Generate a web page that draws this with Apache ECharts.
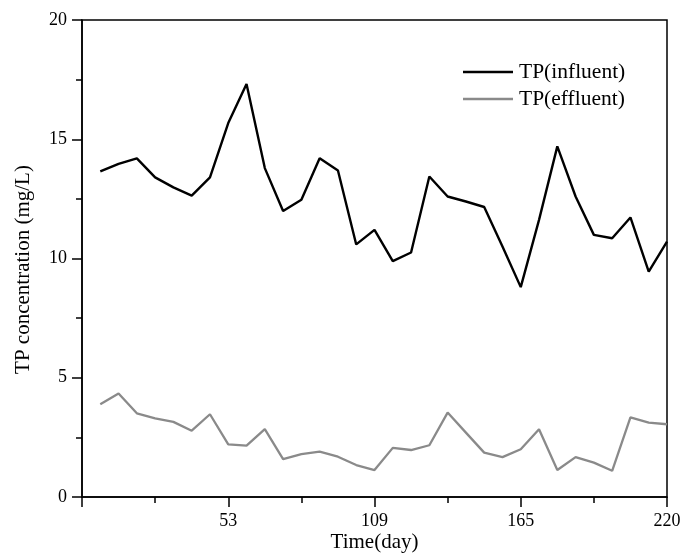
<!DOCTYPE html>
<html>
<head>
<meta charset="utf-8">
<script src="https://cdn.jsdelivr.net/npm/echarts@6/dist/echarts.min.js"></script>
<style>
html,body{margin:0;padding:0;background:#fff;}
#chart{width:682px;height:553px;}
</style>
</head>
<body>
<div id="chart"></div>
<script>
// Sampling days (weekly)
const days = [4, 11, 18, 25, 32, 39, 46, 53, 60, 67, 74, 81, 88, 95, 102, 109,
              116, 123, 130, 137, 144, 151, 158, 165, 172, 179, 186, 193, 200, 207, 214, 221];
// TP concentration (mg/L)
const influent = [13.65, 13.97, 14.20, 13.40, 12.98, 12.64, 13.40, 15.68, 17.32, 13.79, 11.99, 12.46,
                  14.20, 13.69, 10.59, 11.20, 9.89, 10.25, 13.44, 12.60, 12.39, 12.16, 10.50, 8.80,
                  11.62, 14.70, 12.60, 10.99, 10.85, 11.72, 9.45, 10.71];
const effluent = [3.89, 4.34, 3.51, 3.30, 3.15, 2.78, 3.47, 2.21, 2.15, 2.85, 1.59, 1.80,
                  1.90, 1.69, 1.34, 1.13, 2.06, 1.97, 2.17, 3.54, 2.70, 1.86, 1.67, 2.00,
                  2.84, 1.13, 1.67, 1.44, 1.10, 3.34, 3.12, 3.05];
// x-axis tick labels (axis starts 3 days before day 0, ticks every 28 days)
const xStart = -3;
const xTickLabels = {56: '53', 112: '109', 168: '165', 224: '220'};
const seriesNames = ['TP(influent)', 'TP(effluent)'];

const font = "'Liberation Serif','Times New Roman',serif";
const pair = (vals) => days.map((d, i) => [d - xStart, vals[i]]);

const chart = echarts.init(document.getElementById('chart'));
chart.setOption({
  animation: false,
  backgroundColor: '#fff',
  textStyle: {fontFamily: font, color: '#000'},
  grid: {left: 82, right: 15, top: 20, bottom: 56, outerBoundsMode: 'none', containLabel: false,
         show: true, borderColor: '#000', borderWidth: 1.5, backgroundColor: 'transparent'},
  legend: {
    orient: 'vertical', left: 463, top: 61, padding: 0, itemWidth: 50, itemHeight: 2.4, itemGap: 5,
    icon: 'rect',
    textStyle: {fontFamily: font, fontSize: 21.5, color: '#000', padding: [0, 0, 0, 1]},
    data: seriesNames
  },
  xAxis: {
    type: 'value', min: 0, max: 224, interval: 56,
    name: 'Time(day)', nameLocation: 'middle', nameGap: 35, nameMoveOverlap: false,
    nameTextStyle: {fontFamily: font, fontSize: 21, color: '#000'},
    axisLine: {lineStyle: {color: '#000', width: 1.5}},
    axisTick: {inside: false, length: 10, lineStyle: {color: '#000', width: 1.5}},
    minorTick: {show: true, splitNumber: 2, length: 6, lineStyle: {color: '#000', width: 1.5}},
    splitLine: {show: false},
    axisLabel: {fontFamily: font, fontSize: 18, color: '#000', margin: 15,
      formatter: v => xTickLabels[v] || ''}
  },
  yAxis: {
    type: 'value', min: 0, max: 20, interval: 5,
    name: 'TP concentration (mg/L)', nameLocation: 'middle', nameGap: 48, nameMoveOverlap: false,
    nameTextStyle: {fontFamily: font, fontSize: 21, color: '#000', padding: [0, 22, 0, 0]},
    axisLine: {show: true, lineStyle: {color: '#000', width: 1.5}},
    axisTick: {show: true, inside: false, length: 10, lineStyle: {color: '#000', width: 1.5}},
    minorTick: {show: true, splitNumber: 2, length: 6, lineStyle: {color: '#000', width: 1.5}},
    splitLine: {show: false},
    axisLabel: {fontFamily: font, fontSize: 18, color: '#000', margin: 15}
  },
  series: [
    {name: seriesNames[0], type: 'line', data: pair(influent), symbol: 'none',
     lineStyle: {color: '#000', width: 2.4}, itemStyle: {color: '#000'}},
    {name: seriesNames[1], type: 'line', data: pair(effluent), symbol: 'none',
     lineStyle: {color: '#8a8a8a', width: 2.3}, itemStyle: {color: '#8a8a8a'}}
  ]
});
</script>
</body>
</html>
